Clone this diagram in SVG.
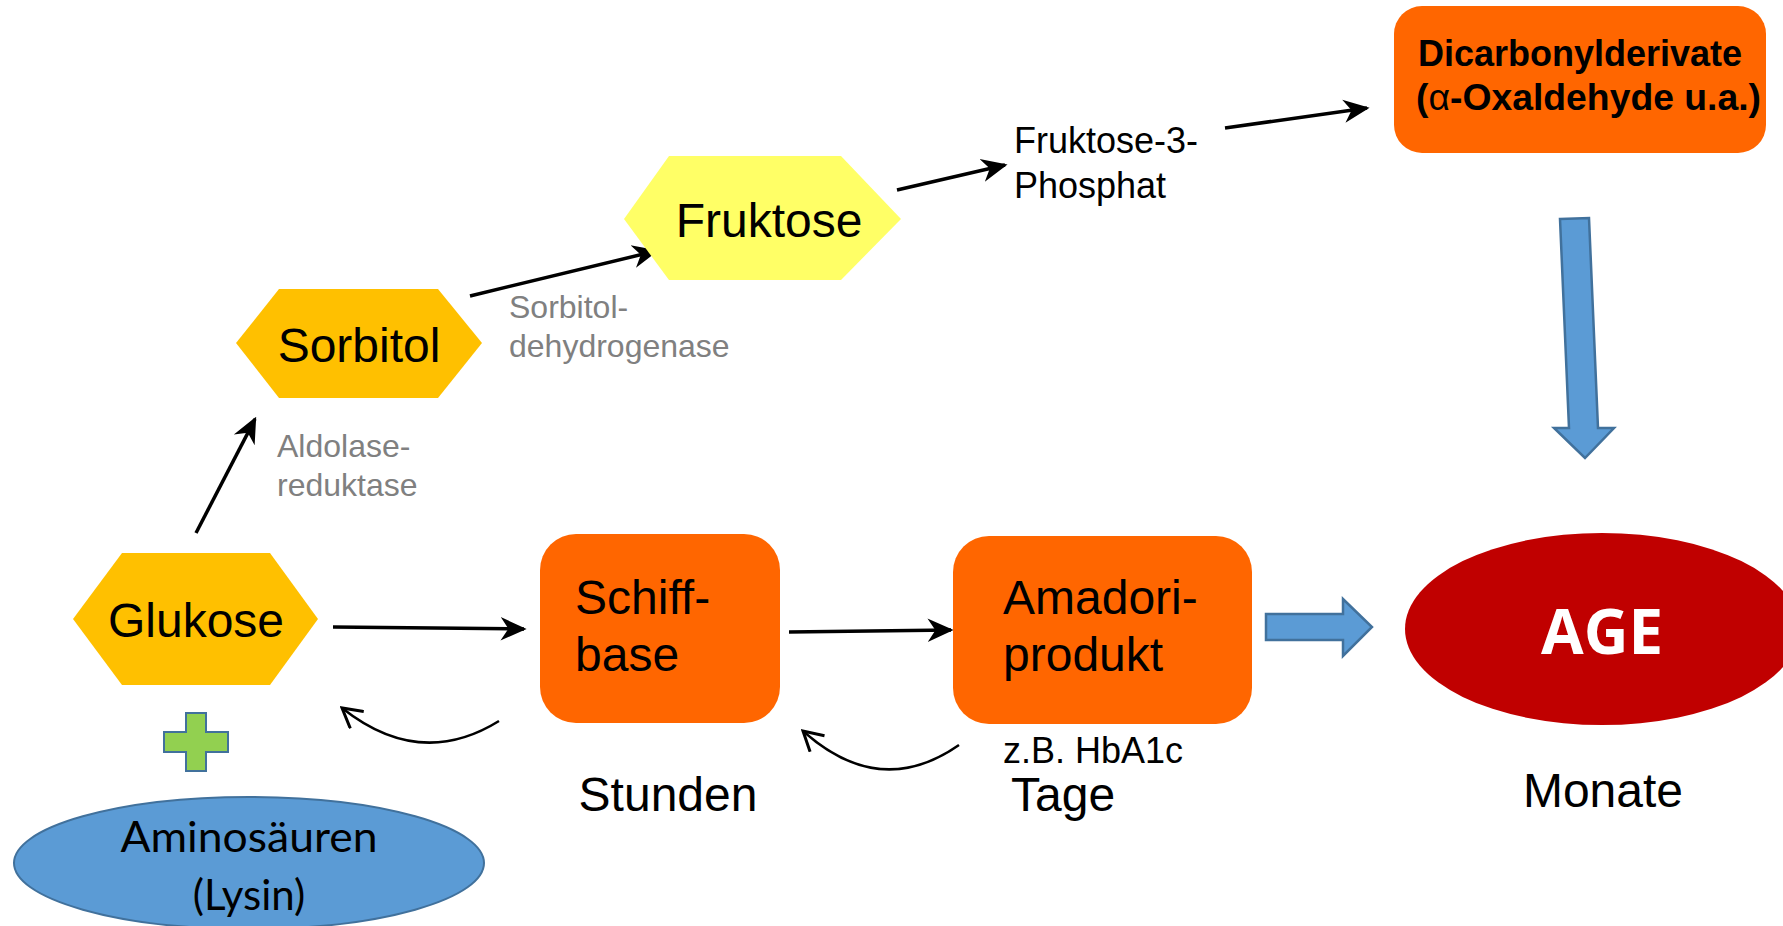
<svg xmlns="http://www.w3.org/2000/svg" width="1783" height="926" viewBox="0 0 1783 926">
  <style>
    .lbl { font-family: "Liberation Sans", Arial, sans-serif; fill: #000; }
    .big { font-size: 48px; }
    .mid { font-size: 36px; }
    .enz { font-family: "Liberation Sans", Arial, sans-serif; font-size: 32px; fill: #808080; }
    .hexO { fill: #FFC000; }
    .hexY { fill: #FFFF66; }
    .box { fill: #FF6600; }
    .blue { fill: #5B9BD5; stroke: #41719C; stroke-width: 2.5; }
    .conn { fill: none; stroke: #000; stroke-width: 3.5; }
    .curve { fill: none; stroke: #000; stroke-width: 2.5; }
  </style>
  <defs>
    <marker id="stealth" viewBox="0 0 20 20" refX="18" refY="10" markerWidth="26" markerHeight="26" markerUnits="userSpaceOnUse" orient="auto">
      <path d="M0,1 L20,10 L0,19 L6,10 Z" fill="#000"/>
    </marker>
    <marker id="open" viewBox="0 0 20 20" refX="18" refY="10" markerWidth="24" markerHeight="24" markerUnits="userSpaceOnUse" orient="auto">
      <path d="M2,1 L18,10 L2,19" fill="none" stroke="#000" stroke-width="2.5"/>
    </marker>
  </defs>
  <rect width="1783" height="926" fill="#fff"/>

  <!-- connectors -->
  <g id="connectors">
    <line class="conn" x1="196" y1="533" x2="255" y2="419" marker-end="url(#stealth)"/>
    <line class="conn" x1="470" y1="296" x2="656" y2="251" marker-end="url(#stealth)"/>
    <line class="conn" x1="897" y1="190" x2="1005" y2="165" marker-end="url(#stealth)"/>
    <line class="conn" x1="1225" y1="128" x2="1367" y2="108" marker-end="url(#stealth)"/>
    <line class="conn" x1="333" y1="627" x2="524" y2="629" marker-end="url(#stealth)"/>
    <line class="conn" x1="789" y1="632" x2="951" y2="630" marker-end="url(#stealth)"/>
    <path class="curve" d="M499,721 Q420,770 342,708" marker-end="url(#open)"/>
    <path class="curve" d="M959,745 Q880,800 803,731" marker-end="url(#open)"/>
    <polygon class="blue" points="1266,614 1343,614 1343,599 1372,627 1343,656 1343,640 1266,640"/>
    <polygon class="blue" points="1560,219 1589,218 1598,428 1614,428 1585,458 1554,428 1569,428"/>
  </g>

  <g id="glukose">
    <polygon class="hexO" points="73,619 122,553 270,553 318,619 270,685 122,685"/>
    <text class="lbl big" x="196" y="637" text-anchor="middle">Glukose</text>
  </g>

  <g id="plus">
    <path d="M186,713 H206 V732 H228 V752 H206 V771 H186 V752 H164 V732 H186 Z" fill="#92D050" stroke="#41719C" stroke-width="2"/>
  </g>

  <g id="aminosaeuren">
    <ellipse cx="249" cy="863" rx="235" ry="66" fill="#5B9BD5" stroke="#41719C" stroke-width="2"/>
    <text x="249" y="852" text-anchor="middle" font-family="Lato, 'Open Sans', sans-serif" font-size="42" textLength="257" lengthAdjust="spacingAndGlyphs">Aminosäuren</text>
    <text x="249" y="910" text-anchor="middle" font-family="Lato, 'Open Sans', sans-serif" font-size="42">(Lysin)</text>
  </g>

  <g id="sorbitol">
    <polygon class="hexO" points="236,343 279,289 438,289 482,343 438,398 279,398"/>
    <text class="lbl big" x="359" y="362" text-anchor="middle">Sorbitol</text>
  </g>

  <g id="aldolase-label">
    <text class="enz" x="277" y="457">Aldolase-</text>
    <text class="enz" x="277" y="496">reduktase</text>
  </g>

  <g id="sdh-label">
    <text class="enz" x="509" y="318">Sorbitol-</text>
    <text class="enz" x="509" y="357">dehydrogenase</text>
  </g>

  <g id="fruktose">
    <polygon class="hexY" points="624,219 669,156 841,156 901,219 841,280 669,280"/>
    <text class="lbl big" x="769" y="237" text-anchor="middle">Fruktose</text>
  </g>

  <g id="fruktose-3-phosphat">
    <text class="lbl mid" x="1014" y="153">Fruktose-3-</text>
    <text class="lbl mid" x="1014" y="198">Phosphat</text>
  </g>

  <g id="dicarbonyl">
    <rect class="box" x="1394" y="6" width="372" height="147" rx="28"/>
    <text class="lbl" x="1580" y="66" text-anchor="middle" font-size="36" font-weight="bold">Dicarbonylderivate</text>
    <text class="lbl" x="1416" y="110" font-size="36" font-weight="bold" textLength="345" lengthAdjust="spacingAndGlyphs">(<tspan font-weight="normal">α</tspan>-Oxaldehyde u.a.)</text>
  </g>

  <g id="schiff">
    <rect class="box" x="540" y="534" width="240" height="189" rx="36"/>
    <text class="lbl big" x="575" y="614">Schiff-</text>
    <text class="lbl big" x="575" y="671">base</text>
  </g>

  <g id="amadori">
    <rect class="box" x="953" y="536" width="299" height="188" rx="36"/>
    <text class="lbl big" x="1003" y="614">Amadori-</text>
    <text class="lbl big" x="1003" y="671">produkt</text>
  </g>

  <g id="age">
    <ellipse cx="1602" cy="629" rx="197" ry="96" fill="#C00000"/>
    <text x="1602" y="654" text-anchor="middle" font-family="'Open Sans', Lato, sans-serif" font-size="62" font-weight="bold" fill="#fff" textLength="122" lengthAdjust="spacingAndGlyphs">AGE</text>
  </g>

  <g id="time-labels">
    <text class="lbl mid" x="1003" y="763">z.B. HbA1c</text>
    <text class="lbl big" x="668" y="811" text-anchor="middle">Stunden</text>
    <text class="lbl big" x="1011" y="811">Tage</text>
    <text class="lbl big" x="1603" y="807" text-anchor="middle">Monate</text>
  </g>
</svg>
